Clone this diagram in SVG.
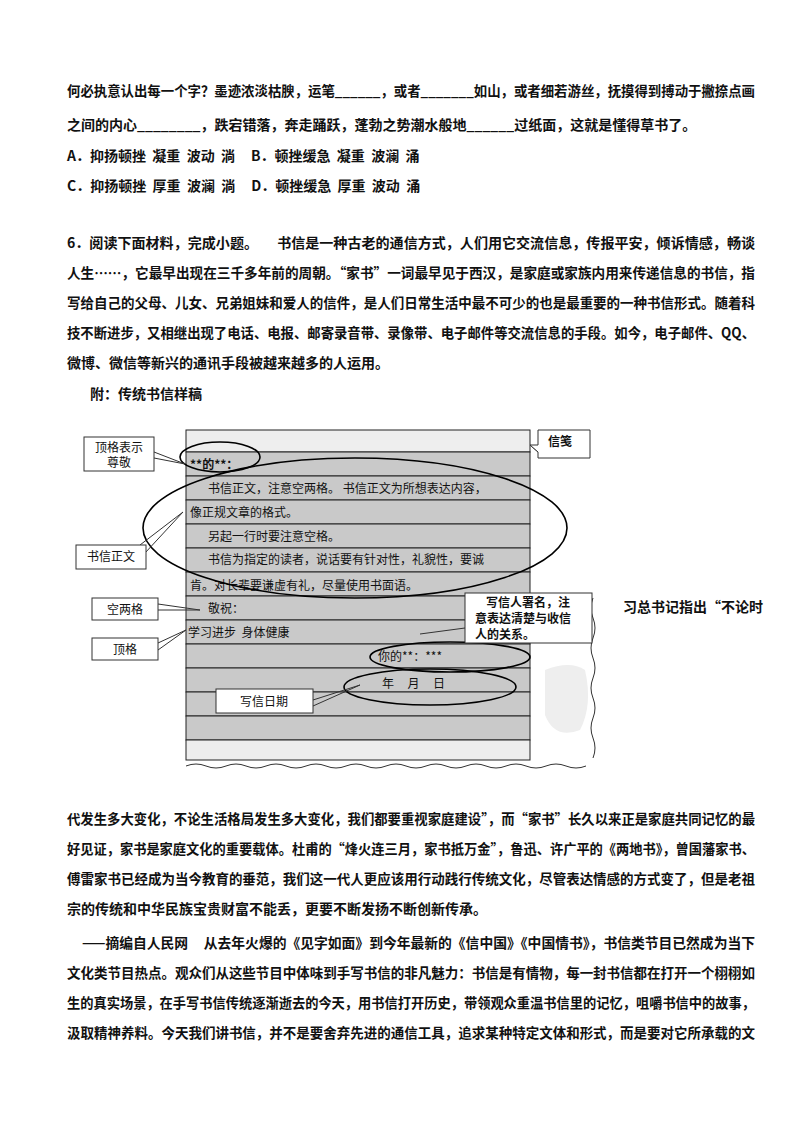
<svg xmlns="http://www.w3.org/2000/svg" width="794" height="1123" viewBox="0 0 794 1123">
<style>
text{white-space:pre}
.t{font-family:"Noto Sans CJK SC","Liberation Sans",sans-serif;font-size:14px;font-weight:bold;fill:#111}
.s{font-family:"Noto Sans CJK SC","Liberation Sans",sans-serif;font-size:12px;fill:#111}
.g{fill:#c9c9c9;stroke:#222;stroke-width:1}
.l{fill:#eeeeee;stroke:#222;stroke-width:1}
.b{fill:#fff;stroke:#333;stroke-width:1}
.e{fill:none;stroke:#000;stroke-width:1.6}
.c{fill:none;stroke:#333;stroke-width:1}
</style>
<rect width="794" height="1123" fill="#fff"/>
<g id="top-text">
<text class="t" x="67" y="96" textLength="688" lengthAdjust="spacingAndGlyphs">何必执意认出每一个字？墨迹浓淡枯腴，运笔______，或者_______如山，或者细若游丝，抚摸得到搏动于撇捺点画</text>
<text class="t" x="67" y="130">之间的内心________，跌宕错落，奔走踊跃，蓬勃之势潮水般地______过纸面，这就是懂得草书了。</text>
<text class="t" x="67" y="161">A．抑扬顿挫  凝重  波动  淌     B．顿挫缓急  凝重  波澜  涌</text>
<text class="t" x="67" y="191">C．抑扬顿挫  厚重  波澜  淌     D．顿挫缓急  厚重  波动  涌</text>
<text class="t" x="67" y="248" textLength="688" lengthAdjust="spacingAndGlyphs">6．阅读下面材料，完成小题。      书信是一种古老的通信方式，人们用它交流信息，传报平安，倾诉情感，畅谈</text>
<text class="t" x="67" y="278" textLength="688" lengthAdjust="spacingAndGlyphs">人生……，它最早出现在三千多年前的周朝。“家书”一词最早见于西汉，是家庭或家族内用来传递信息的书信，指</text>
<text class="t" x="67" y="308" textLength="688" lengthAdjust="spacingAndGlyphs">写给自己的父母、儿女、兄弟姐妹和爱人的信件，是人们日常生活中最不可少的也是最重要的一种书信形式。随着科</text>
<text class="t" x="67" y="338" textLength="688" lengthAdjust="spacingAndGlyphs">技不断进步，又相继出现了电话、电报、邮寄录音带、录像带、电子邮件等交流信息的手段。如今，电子邮件、QQ、</text>
<text class="t" x="67" y="368">微博、微信等新兴的通讯手段被越来越多的人运用。</text>
<text class="t" x="90" y="399" font-size="12">附：传统书信样稿</text>
<text class="t" x="623" y="612">习总书记指出“不论时</text>
</g>
<g id="background">
<path d="M593 598 q-4 10 0 20 q4 10 0 20 q-4 10 0 20 q4 10 0 20 q-4 10 0 20 q4 10 0 20 q-4 10 0 20 q4 10 0 20" class="c" stroke="#888"/>
<path d="M186 766 q10 -4 20 0 q10 4 20 0 q10 -4 20 0 q10 4 20 0 q10 -4 20 0 q10 4 20 0 q10 -4 20 0 q10 4 20 0 q10 -4 20 0 q10 4 20 0 q10 -4 20 0 q10 4 20 0 q10 -4 20 0 q10 4 20 0 q10 -4 20 0 q10 4 20 0 q10 -4 20 0 q10 4 20 0 q10 -4 20 0 q10 4 20 0" class="c" stroke="#888"/>
<path d="M545 670 q25 -10 40 0 q8 35 -5 60 q-25 10 -35 -15 z" fill="#eeeeee"/>
</g>
<g id="letter">
<rect class="l" x="186" y="430" width="344" height="22"/>
<rect class="g" x="186" y="452" width="344" height="24"/>
<rect class="g" x="186" y="476" width="344" height="24"/>
<rect class="g" x="186" y="500" width="344" height="24"/>
<rect class="g" x="186" y="524" width="344" height="24"/>
<rect class="g" x="186" y="548" width="344" height="24"/>
<rect class="g" x="186" y="572" width="344" height="24"/>
<rect class="g" x="186" y="596" width="344" height="24"/>
<rect class="g" x="186" y="620" width="344" height="24"/>
<rect class="g" x="186" y="644" width="344" height="24"/>
<rect class="g" x="186" y="668" width="344" height="24"/>
<rect class="g" x="186" y="692" width="344" height="24"/>
<rect class="g" x="186" y="716" width="344" height="24"/>
<rect class="l" x="186" y="740" width="344" height="20"/>
<text class="s" x="190" y="469" font-weight="bold">**的**：</text>
<text class="s" x="208" y="493">书信正文，注意空两格。 书信正文为所想表达内容，</text>
<text class="s" x="190" y="517">像正规文章的格式。</text>
<text class="s" x="208" y="541">另起一行时要注意空格。</text>
<text class="s" x="208" y="564">书信为指定的读者，说话要有针对性，礼貌性，要诚</text>
<text class="s" x="190" y="590">肯。对长辈要谦虚有礼，尽量使用书面语。</text>
<text class="s" x="208" y="613">敬祝：</text>
<text class="s" x="188" y="637">学习进步  身体健康</text>
<text class="s" x="378" y="661">你的**：***</text>
<text class="s" x="382" y="688">年     月     日</text>
</g>
<g id="connectors">
<ellipse class="e" cx="220" cy="457" rx="40" ry="15"/>
<ellipse class="e" cx="355" cy="528" rx="212" ry="70"/>
<ellipse class="e" cx="450" cy="657" rx="80" ry="15"/>
<ellipse class="e" cx="430" cy="687" rx="86" ry="18"/>
<path class="c" d="M154 452 L185 464 M154 458 L185 464"/>
<path class="c" d="M530 445 L538 452"/>
<path class="c" d="M140 545 L183 512 M145 553 L183 512"/>
<path class="c" d="M158 604 L200 610 M158 610 L200 610"/>
<path class="c" d="M158 643 L186 630 M158 650 L186 630"/>
<path class="c" d="M465 628 L420 634"/>
<path class="c" d="M313 700 L360 685 M313 706 L360 685"/>
</g>
<g id="label-dingge-zunjing"><rect class="b" x="84" y="437" width="70" height="34"/><text class="s" x="119" y="452" text-anchor="middle">顶格表示</text><text class="s" x="119" y="467" text-anchor="middle">尊敬</text></g>
<g id="label-xinjian"><path class="b" d="M538 430 H590 V458 H538 V452 L530 445 L538 445 Z"/><text class="s" x="548" y="446" font-weight="bold">信笺</text></g>
<g id="label-zhengwen"><rect class="b" x="76" y="545" width="70" height="24"/><text class="s" x="111" y="561" text-anchor="middle">书信正文</text></g>
<g id="label-kongliangge"><rect class="b" x="92" y="598" width="66" height="22"/><text class="s" x="125" y="614" text-anchor="middle">空两格</text></g>
<g id="label-dingge"><rect class="b" x="92" y="638" width="66" height="22"/><text class="s" x="125" y="654" text-anchor="middle">顶格</text></g>
<g id="label-shuming"><rect class="b" x="465" y="593" width="127" height="50"/><text class="s" x="486" y="607" font-size="10.5" font-weight="bold">写信人署名，注</text><text class="s" x="475" y="623" font-size="10.5" font-weight="bold">意表达清楚与收信</text><text class="s" x="475" y="639" font-size="10.5" font-weight="bold">人的关系。</text></g>
<g id="label-riqi"><rect class="b" x="216" y="689" width="97" height="24"/><text class="s" x="264" y="706" text-anchor="middle">写信日期</text></g>
<g id="bottom-text">
<text class="t" x="67" y="824" textLength="688" lengthAdjust="spacingAndGlyphs">代发生多大变化，不论生活格局发生多大变化，我们都要重视家庭建设”，而“家书”长久以来正是家庭共同记忆的最</text>
<text class="t" x="67" y="854" textLength="688" lengthAdjust="spacingAndGlyphs">好见证，家书是家庭文化的重要载体。杜甫的“烽火连三月，家书抵万金”，鲁迅、许广平的《两地书》，曾国藩家书、</text>
<text class="t" x="67" y="884" textLength="688" lengthAdjust="spacingAndGlyphs">傅雷家书已经成为当今教育的垂范，我们这一代人更应该用行动践行传统文化，尽管表达情感的方式变了，但是老祖</text>
<text class="t" x="67" y="914">宗的传统和中华民族宝贵财富不能丢，更要不断发扬不断创新传承。</text>
<text class="t" x="82" y="948" textLength="673" lengthAdjust="spacingAndGlyphs">——摘编自人民网     从去年火爆的《见字如面》到今年最新的《信中国》《中国情书》，书信类节目已然成为当下</text>
<text class="t" x="67" y="978" textLength="688" lengthAdjust="spacingAndGlyphs">文化类节目热点。观众们从这些节目中体味到手写书信的非凡魅力：书信是有情物，每一封书信都在打开一个栩栩如</text>
<text class="t" x="67" y="1008" textLength="688" lengthAdjust="spacingAndGlyphs">生的真实场景，在手写书信传统逐渐逝去的今天，用书信打开历史，带领观众重温书信里的记忆，咀嚼书信中的故事，</text>
<text class="t" x="67" y="1038" textLength="688" lengthAdjust="spacingAndGlyphs">汲取精神养料。今天我们讲书信，并不是要舍弃先进的通信工具，追求某种特定文体和形式，而是要对它所承载的文</text>
</g>
</svg>
